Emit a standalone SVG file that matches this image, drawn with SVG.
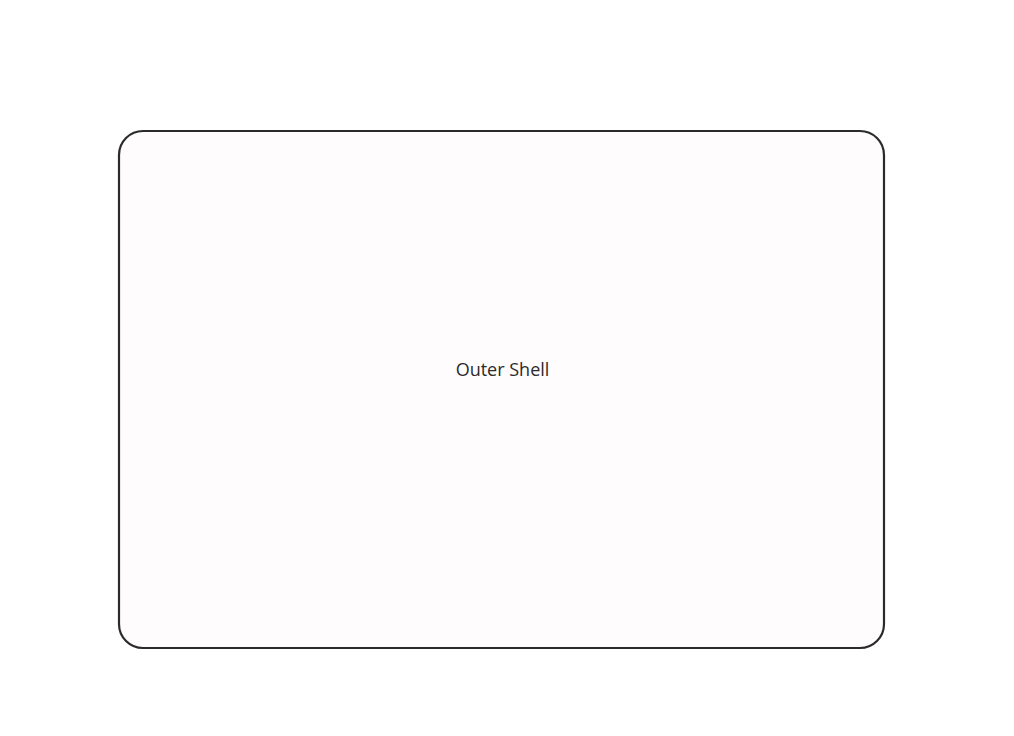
<svg xmlns="http://www.w3.org/2000/svg" width="1014" height="736" viewBox="0 0 1014 736">
<style>
.shell{fill:#fffcfd;stroke:#2b2b2b;stroke-width:2.2}
.lbl{font-family:"Open Sans","Liberation Sans",sans-serif;font-size:18px;fill:#2b2b2b;text-anchor:middle}
</style>
<rect width="1014" height="736" fill="#ffffff"/>
<g id="outer-shell">
<rect class="shell" x="119" y="131" width="765" height="517" rx="24" ry="24"/>
<text class="lbl" x="502.5" y="376">Outer Shell</text>
</g>
<g id="connectors"/>
</svg>
